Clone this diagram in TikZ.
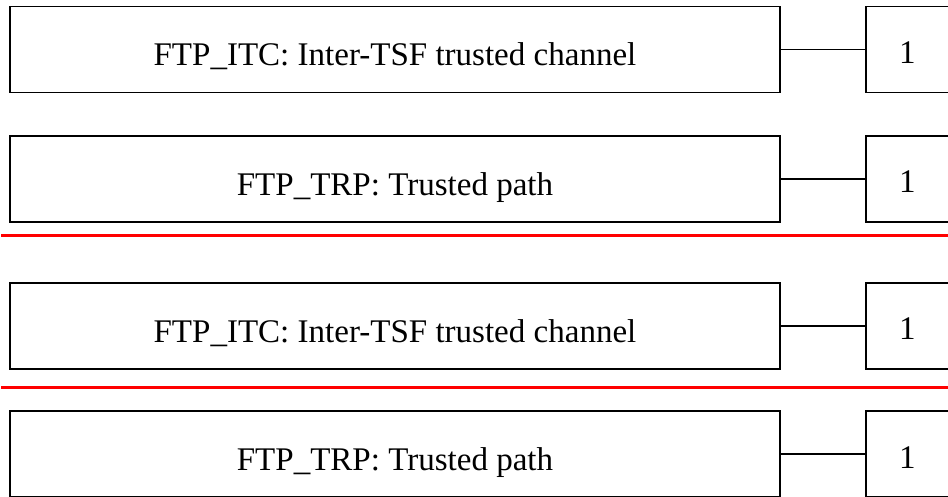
\documentclass[tikz,border=0pt]{standalone}
\usepackage{fontspec}
\setmainfont{Liberation Serif}
\usepackage{tikz}
\usetikzlibrary{positioning}

\begin{document}
\begin{tikzpicture}[x=0.02cm,y=-0.02cm,font=\fontsize{18.8}{22}\selectfont,
      req/.style={draw,line width=1.1pt,minimum width=15.4cm,minimum height=1.72cm,inner sep=0pt,text height=0.7cm,text depth=0.04cm},
      lvl/.style={draw,line width=1.1pt,minimum width=1.66cm,minimum height=1.72cm,inner sep=0pt,text height=0.6cm,text depth=0.04cm},
      link/.style={line width=1.1pt},
      sep/.style={red,line width=1.5pt}]
    \useasboundingbox (0,0) rectangle (948,497);
    \foreach \i/\y/\lab in {0/49.5/{FTP\_ITC: Inter-TSF trusted channel},1/179/{FTP\_TRP: Trusted path},2/326/{FTP\_ITC: Inter-TSF trusted channel},3/454/{FTP\_TRP: Trusted path}} {
      \node[req] (r\i) at (395,\y) {\lab};
      \node[lvl] (n\i) at (907.5,\y) {1};
      \draw[link] (r\i.east) -- (n\i.west);
    }
    % separators
    \coordinate (s0) at (1,235.7);
    \coordinate (s1) at (1,387.7);
    \draw[sep] (s0) -- ++(948,0);
    \draw[sep] (s1) -- ++(948,0);
  \end{tikzpicture}
\end{document}
